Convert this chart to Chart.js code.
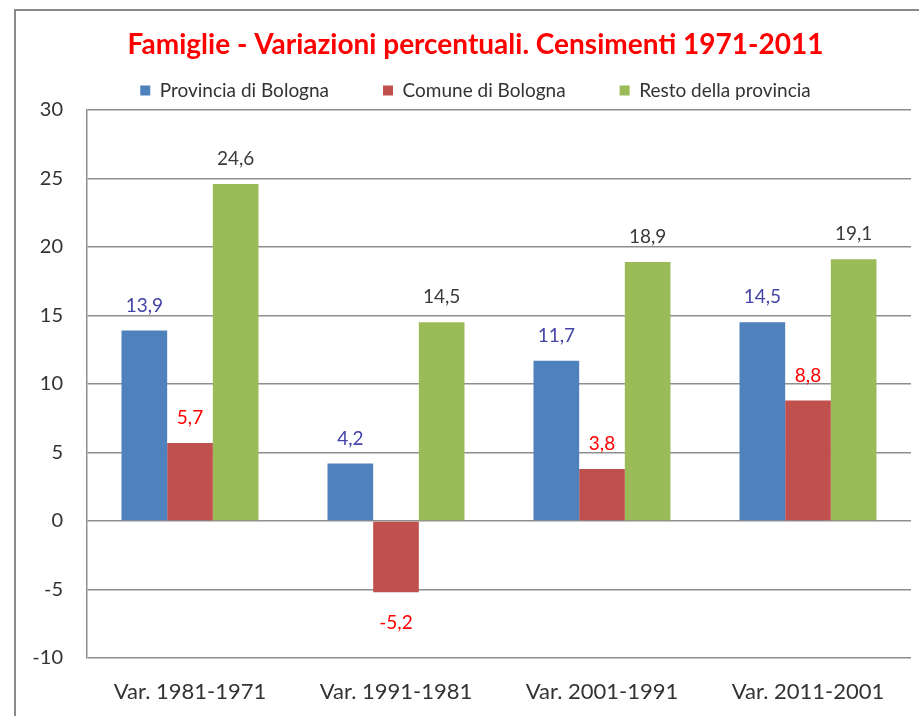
<!DOCTYPE html>
<html><head><meta charset="utf-8">
<script src="https://cdn.jsdelivr.net/npm/chart.js@4.4.1/dist/chart.umd.min.js"></script>
<style>html,body{margin:0;padding:0;background:#fff;}#wrap{width:919px;height:716px;position:relative;}</style>
</head><body><div id="wrap"><canvas id="c" width="919" height="716"></canvas></div>
<script>
const categories = ['Var. 1981-1971', 'Var. 1991-1981', 'Var. 2001-1991', 'Var. 2011-2001'];
const seriesNames = ['Provincia di Bologna', 'Comune di Bologna', 'Resto della provincia'];
const provincia = [13.9, 4.2, 11.7, 14.5];
const comune = [5.7, -5.2, 3.8, 8.8];
const resto = [24.6, 14.5, 18.9, 19.1];
const yTicks = [-10, -5, 0, 5, 10, 15, 20, 25, 30];
const titleText = 'Famiglie - Variazioni percentuali. Censimenti 1971-2011';

const barColors = ['#4f81bd', '#c0504d', '#9bbb59'];
const labelColors = ['#4343a8', '#ff0000', '#3a3a3a'];
const FONT = 'Lato, "Open Sans", sans-serif';

const frame = {
  id: 'frame',
  beforeDraw(chart) {
    const ctx = chart.ctx;
    ctx.save();
    ctx.strokeStyle = '#8a8a8a';
    ctx.lineWidth = 2;
    ctx.beginPath();
    ctx.moveTo(15, 716);
    ctx.lineTo(15, 10);
    ctx.lineTo(919, 10);
    ctx.stroke();
    ctx.restore();
  }
};

const valueLabels = {
  id: 'valueLabels',
  afterDatasetsDraw(chart) {
    const ctx = chart.ctx;
    ctx.save();
    ctx.font = '19px ' + FONT;
    ctx.textAlign = 'center';
    ctx.textBaseline = 'middle';
    chart.data.datasets.forEach((ds, di) => {
      const meta = chart.getDatasetMeta(di);
      ctx.fillStyle = labelColors[di];
      meta.data.forEach((el, i) => {
        const v = ds.data[i];
        const y = v >= 0 ? el.y - 25 : el.y + 31;
        ctx.fillText(v.toFixed(1).replace('.', ','), el.x, y);
      });
    });
    ctx.restore();
  }
};

new Chart(document.getElementById('c'), {
  type: 'bar',
  data: {
    labels: categories,
    datasets: [
      { label: seriesNames[0], data: provincia, backgroundColor: barColors[0] },
      { label: seriesNames[1], data: comune, backgroundColor: barColors[1] },
      { label: seriesNames[2], data: resto, backgroundColor: barColors[2] }
    ]
  },
  options: {
    responsive: false,
    animation: false,
    layout: { padding: { left: 32, right: 0, top: 0, bottom: 0 } },
    datasets: { bar: { categoryPercentage: 0.665, barPercentage: 1.0 } },
    plugins: {
      title: {
        display: true,
        text: titleText,
        color: '#ff0000',
        font: { family: FONT, size: 28, weight: 'bold' },
        padding: { top: 28.2, bottom: -34.8 }
      },
      legend: {
        display: true,
        labels: {
          color: '#333333',
          font: { family: FONT, size: 19 },
          boxWidth: 10,
          boxHeight: 10,
          padding: 54
        }
      },
      tooltip: { enabled: false }
    },
    scales: {
      x: {
        grid: { display: false, drawTicks: false },
        border: { display: false },
        ticks: { color: '#333333', font: { family: FONT, size: 22 }, padding: 21 },
        afterFit(scale) { scale.height = 58; }
      },
      y: {
        min: -10,
        max: 30,
        afterBuildTicks(scale) { scale.ticks = yTicks.map(v => ({ value: v })); },
        grid: { color: '#8e8e8e', lineWidth: 1.5, drawTicks: false },
        border: { display: true, color: '#8e8e8e', width: 1.5 },
        ticks: { color: '#333333', font: { family: FONT, size: 20 }, padding: 24 },
        afterFit(scale) { scale.width = 55; }
      },
      yRight: {
        position: 'right',
        display: true,
        grid: { display: false, drawTicks: false },
        border: { display: false },
        ticks: { display: false },
        afterFit(scale) { scale.width = 8; }
      }
    }
  },
  plugins: [frame, valueLabels]
});
</script></body></html>
